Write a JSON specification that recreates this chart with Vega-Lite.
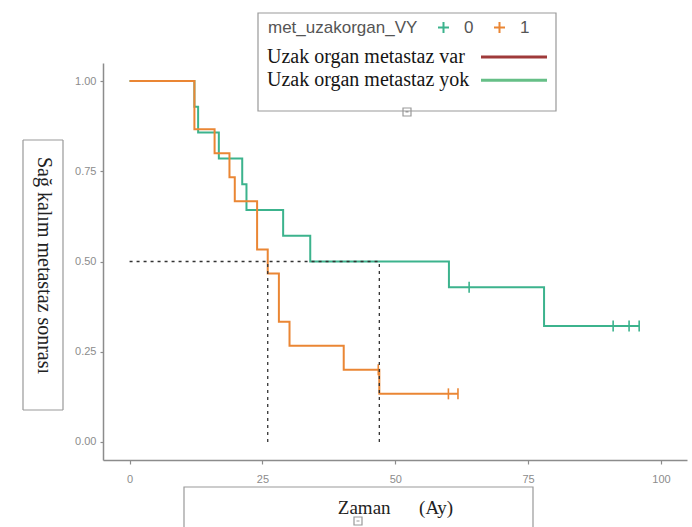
{
  "$schema": "https://vega.github.io/schema/vega-lite/v6.json",
  "width": 584,
  "height": 397,
  "autosize": {"type": "none"},
  "padding": {"left": 103, "top": 63, "right": 5, "bottom": 67},
  "background": "white",
  "config": {
    "view": {"stroke": null},
    "axis": {
      "grid": false,
      "domainColor": "#8c8c8c",
      "domainWidth": 1.5,
      "tickColor": "#8c8c8c",
      "tickWidth": 1.2,
      "labelColor": "#8c8c8c",
      "labelFont": "Liberation Sans",
      "labelFontSize": 11,
      "titleFont": "Liberation Serif",
      "titleFontWeight": "normal",
      "titleColor": "#222222"
    }
  },
  "datasets": {
    "curves": [
      {"grp": "0", "t": 0, "s": 1},
      {"grp": "0", "t": 12.2, "s": 0.9286},
      {"grp": "0", "t": 12.9, "s": 0.8571},
      {"grp": "0", "t": 16.8, "s": 0.7857},
      {"grp": "0", "t": 21.2, "s": 0.7143},
      {"grp": "0", "t": 22.0, "s": 0.6429},
      {"grp": "0", "t": 28.9, "s": 0.5714},
      {"grp": "0", "t": 34.0, "s": 0.5},
      {"grp": "0", "t": 60.1, "s": 0.4286},
      {"grp": "0", "t": 78.0, "s": 0.3214},
      {"grp": "0", "t": 95.9, "s": 0.3214},
      {"grp": "1", "t": 0, "s": 1},
      {"grp": "1", "t": 12.2, "s": 0.8667},
      {"grp": "1", "t": 16.0, "s": 0.8},
      {"grp": "1", "t": 18.8, "s": 0.7333},
      {"grp": "1", "t": 19.8, "s": 0.6667},
      {"grp": "1", "t": 24.0, "s": 0.5333},
      {"grp": "1", "t": 26.0, "s": 0.4667},
      {"grp": "1", "t": 28.1, "s": 0.3333},
      {"grp": "1", "t": 30.1, "s": 0.2667},
      {"grp": "1", "t": 40.3, "s": 0.2},
      {"grp": "1", "t": 47.0, "s": 0.1333},
      {"grp": "1", "t": 61.8, "s": 0.1333}
    ],
    "censor": [
      {"grp": "0", "t": 63.9, "s": 0.4286},
      {"grp": "0", "t": 91.0, "s": 0.3214},
      {"grp": "0", "t": 94.0, "s": 0.3214},
      {"grp": "0", "t": 95.9, "s": 0.3214},
      {"grp": "1", "t": 46.8, "s": 0.2},
      {"grp": "1", "t": 60.0, "s": 0.1333},
      {"grp": "1", "t": 61.8, "s": 0.1333}
    ],
    "medians": [
      {"x": 0, "y": 0.5, "x2": 47, "y2": 0.5},
      {"x": 26, "y": 0, "x2": 26, "y2": 0.5},
      {"x": 47, "y": 0, "x2": 47, "y2": 0.5}
    ],
    "leg": [
      {"lab": "Uzak organ metastaz var", "t": 0, "s": 1},
      {"lab": "Uzak organ metastaz yok", "t": 0, "s": 1}
    ],
    "one": [{"k": "a", "t": 0, "s": 1}],
    "two": [{"k2": "b", "t": 0, "s": 1}],
    "three": [{"k3": "c", "t": 0, "s": 1}]
  },
  "layer": [
    {
      "data": {"name": "curves"},
      "mark": {"type": "line", "interpolate": "step-after", "strokeWidth": 2},
      "encoding": {
        "x": {"field": "t", "type": "quantitative", "scale": {"domain": [-5, 104.9], "nice": false, "zero": false},
              "axis": {"values": [0, 25, 50, 75, 100], "tickSize": 4, "labelPadding": 9,
                       "title": "Zaman\u00a0\u00a0\u00a0\u00a0\u00a0\u00a0(Ay)", "titleFontSize": 19,
                       "titleY": 47, "titleBaseline": "middle", "titleAlign": "center"}},
        "y": {"field": "s", "type": "quantitative", "scale": {"domain": [-0.05, 1.05], "nice": false, "zero": false},
              "axis": {"values": [0, 0.25, 0.5, 0.75, 1], "format": ".2f", "tickSize": 3, "labelPadding": 4,
                       "title": "Sağ kalım metastaz sonrası", "titleFontSize": 20, "titleAngle": 90,
                       "titleX": -60, "titleY": 202, "titleAlign": "center", "titleBaseline": "middle"}},
        "color": {
          "field": "grp", "type": "nominal",
          "scale": {"domain": ["0", "1"], "range": ["#3cb38d", "#ea8634"]},
          "legend": {
            "orient": "none", "legendX": 165, "legendY": -44, "direction": "horizontal",
            "title": "met_uzakorgan_VY", "titleOrient": "left", "titleFont": "Liberation Sans",
            "titleFontSize": 17, "titleFontWeight": "normal", "titleColor": "#555", "titlePadding": 17,
            "labelFont": "Liberation Sans", "labelFontSize": 17, "labelColor": "#555", "labelOffset": 12,
            "symbolType": "M-1,0H1M0,-1V1", "symbolSize": 121, "symbolStrokeWidth": 2,
            "symbolFillColor": "transparent", "columnPadding": 16, "padding": 0
          }
        }
      }
    },
    {
      "data": {"name": "censor"},
      "mark": {"type": "point", "shape": "M0,-1V1", "size": 121, "filled": false, "strokeWidth": 1.6, "opacity": 1},
      "encoding": {
        "x": {"field": "t", "type": "quantitative"},
        "y": {"field": "s", "type": "quantitative"},
        "color": {"field": "grp", "type": "nominal"}
      }
    },
    {
      "data": {"name": "medians"},
      "mark": {"type": "rule", "color": "#333333", "strokeDash": [3, 4], "strokeWidth": 1.3},
      "encoding": {
        "x": {"field": "x", "type": "quantitative"},
        "y": {"field": "y", "type": "quantitative"},
        "x2": {"field": "x2"},
        "y2": {"field": "y2"}
      }
    },
    {
      "data": {"name": "leg"},
      "mark": {"type": "line", "strokeWidth": 3},
      "encoding": {
        "x": {"field": "t", "type": "quantitative"},
        "y": {"field": "s", "type": "quantitative"},
        "stroke": {
          "field": "lab", "type": "nominal",
          "scale": {"domain": ["Uzak organ metastaz var", "Uzak organ metastaz yok"], "range": ["#9f3a3a", "#66bf87"]},
          "legend": {
            "orient": "none", "legendX": 155, "legendY": -50, "direction": "vertical",
            "title": "\u00a0", "titleFontSize": 22, "titlePadding": 7,
            "labelFont": "Liberation Serif", "labelFontSize": 20, "labelColor": "#151515", "labelLimit": 500,
            "symbolType": "M104,0H137", "symbolSize": 16, "symbolStrokeWidth": 3,
            "labelOffset": -16, "symbolOffset": 0, "rowPadding": 3.3,
            "padding": 5
          }
        }
      }
    },
    {
      "data": {"name": "one"},
      "mark": {"type": "line", "color": "#999999", "strokeWidth": 1.2},
      "encoding": {
        "x": {"field": "t", "type": "quantitative"},
        "y": {"field": "s", "type": "quantitative"},
        "strokeDash": {
          "field": "k", "type": "nominal",
          "scale": {"range": [[1, 0]]},
          "legend": {
            "orient": "none", "legendX": -82, "legendY": 75, "title": null,
            "symbolType": "M0,0H40V270H0Z", "symbolSize": 4, "symbolStrokeWidth": 1.2,
            "symbolStrokeColor": "#999999", "symbolFillColor": "transparent",
            "labelExpr": "''", "labelFontSize": 1, "padding": 0
          }
        }
      }
    },
    {
      "data": {"name": "two"},
      "mark": {"type": "line", "color": "#999999", "strokeWidth": 1.2},
      "encoding": {
        "x": {"field": "t", "type": "quantitative"},
        "y": {"field": "s", "type": "quantitative"},
        "opacity": {
          "field": "k2", "type": "nominal",
          "scale": {"range": [1, 1]},
          "legend": {
            "orient": "none", "legendX": 79, "legendY": 422, "title": null,
            "symbolType": "M0,0H349V70H0ZM170,30H178V38H170ZM172.5,34H175.5", "symbolSize": 4, "symbolStrokeWidth": 1.2,
            "symbolStrokeColor": "#999999", "symbolFillColor": "transparent", "symbolOpacity": 1,
            "labelExpr": "''", "labelFontSize": 1, "padding": 0
          }
        }
      }
    },
    {
      "data": {"name": "three"},
      "mark": {"type": "line", "color": "#999999", "strokeWidth": 1.2},
      "encoding": {
        "x": {"field": "t", "type": "quantitative"},
        "y": {"field": "s", "type": "quantitative"},
        "strokeWidth": {
          "field": "k3", "type": "nominal",
          "scale": {"range": [1.2, 1.2]},
          "legend": {
            "orient": "none", "legendX": 153, "legendY": -52, "title": null,
            "symbolType": "M0,0H298V98H0ZM145,95H153V103H145ZM147.5,99H150.5", "symbolSize": 4,
            "symbolStrokeColor": "#999999", "symbolFillColor": "transparent",
            "labelExpr": "''", "labelFontSize": 1, "padding": 0
          }
        }
      }
    }
  ]
}
